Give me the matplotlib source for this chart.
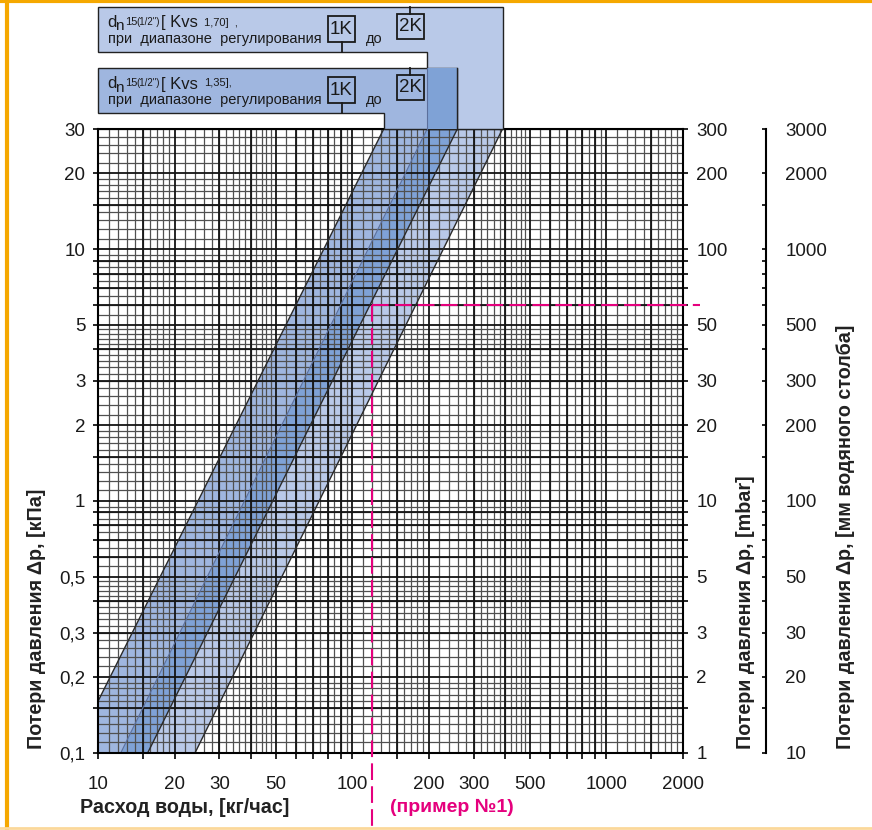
import numpy as np
import matplotlib.pyplot as plt
from matplotlib.patches import Polygon, Rectangle

plt.rcParams['font.family'] = ['Liberation Sans', 'DejaVu Sans']

W, H = 872, 830

# axis scales
flow_ticks = [10, 20, 30, 50, 100, 200, 300, 500, 1000, 2000]
flow_labels = ['10', '20', '30', '50', '100', '200', '300', '500', '1000', '2000']
kpa_ticks = [0.1, 0.2, 0.3, 0.5, 1, 2, 3, 5, 10, 20, 30]
kpa_labels = ['0,1', '0,2', '0,3', '0,5', '1', '2', '3', '5', '10', '20', '30']
mbar_ticks = [1, 2, 3, 5, 10, 20, 30, 50, 100, 200, 300]
mm_ticks = [10, 20, 30, 50, 100, 200, 300, 500, 1000, 2000, 3000]

# band edges (flow kg/h, dp kPa)
edge1_q = [10, 133];   edge1_dp = [0.16, 30]
edge2_q = [12.3, 197]; edge2_dp = [0.1, 30]
edge3_q = [15.7, 259]; edge3_dp = [0.1, 30]
edge4_q = [24.1, 390]; edge4_dp = [0.1, 30]

# example No.1
example_q = 120
example_dp = 6

c_light = '#b9c9e8'
c_mid = '#9fb6df'
c_dark = '#7fa2d6'
pink = '#e5007d'
ink = '#1a1a1a'

major_m = [1, 1.5, 2, 3, 4, 5, 6, 7, 8, 9]
minor_m = list(np.round(np.r_[np.arange(1.1, 2.0, 0.1), np.arange(2.2, 5.0, 0.2), np.arange(5.5, 10, 0.5)], 2))


def log_lines(lo, hi, mants):
    out = []
    for e in range(int(np.floor(np.log10(lo))), int(np.ceil(np.log10(hi))) + 1):
        for m in mants:
            v = m * 10.0 ** e
            if lo * 0.999 <= v <= hi * 1.001:
                out.append(v)
    return out


fig = plt.figure(figsize=(W / 100, H / 100), dpi=100)
ax = fig.add_axes([98 / W, (H - 752.7) / H, 585 / W, 623.7 / H])
ax.set_xscale('log')
ax.set_yscale('log')
ax.set_xlim(10, 2000)
ax.set_ylim(0.1, 30)

# grid
for v in log_lines(10, 2000, minor_m):
    ax.axvline(v, color='#505050', lw=0.9, zorder=2)
for v in log_lines(0.1, 30, minor_m):
    ax.axhline(v, color='#505050', lw=0.9, zorder=2)
x_major = log_lines(10, 2000, major_m)
y_major = log_lines(0.1, 30, major_m)
for v in x_major:
    ax.axvline(v, color='#141414', lw=1.3, zorder=3)
for v in y_major:
    ax.axhline(v, color='#141414', lw=1.3, zorder=3)

# bands
reg_a = [(edge1_q[0], 0.1), (edge1_q[0], edge1_dp[0]), (edge1_q[1], edge1_dp[1]),
         (edge2_q[1], edge2_dp[1]), (edge2_q[0], edge2_dp[0])]
reg_ab = [(edge2_q[0], edge2_dp[0]), (edge2_q[1], edge2_dp[1]),
          (edge3_q[1], edge3_dp[1]), (edge3_q[0], edge3_dp[0])]
reg_b = [(edge3_q[0], edge3_dp[0]), (edge3_q[1], edge3_dp[1]),
         (edge4_q[1], edge4_dp[1]), (edge4_q[0], edge4_dp[0])]
for reg, col in [(reg_a, c_mid), (reg_ab, c_dark), (reg_b, c_light)]:
    ax.add_patch(Polygon(reg, closed=True, facecolor=col, edgecolor='none', zorder=1))
ax.plot(edge1_q, edge1_dp, color='#2a2a2a', lw=1.0, zorder=4)
ax.plot(edge2_q, edge2_dp, color='#5b6f9c', lw=0.8, zorder=4)
ax.plot(edge3_q, edge3_dp, color='#2a2a2a', lw=1.0, zorder=4)
ax.plot(edge4_q, edge4_dp, color='#2a2a2a', lw=1.0, zorder=4)

for s in ax.spines.values():
    s.set_linewidth(1.5)
    s.set_zorder(5)

ax.set_xticks(x_major, labels=[flow_labels[flow_ticks.index(v)] if v in flow_ticks else '' for v in np.round(x_major, 6)])
ax.set_yticks(y_major, labels=[kpa_labels[kpa_ticks.index(v)] if v in kpa_ticks else '' for v in np.round(y_major, 6)])
ax.minorticks_off()
ax.tick_params(axis='x', direction='out', length=4.5, width=1.2, pad=12, labelsize=13.5, labelcolor=ink)
ax.tick_params(axis='y', direction='out', length=3.6, width=1.2, pad=5.5, labelsize=13.5, labelcolor=ink)

# mbar axis
ax2 = ax.twinx()
ax2.set_yscale('log')
ax2.set_ylim(1, 300)
y2 = log_lines(1, 300, major_m)
ax2.set_yticks(y2, labels=[str(int(round(v))) if round(v, 6) in mbar_ticks else '' for v in y2])
ax2.minorticks_off()
ax2.tick_params(axis='y', direction='out', length=3.6, width=1.2, pad=6, labelsize=13.5, labelcolor=ink)
for k in ['left', 'top', 'bottom', 'right']:
    ax2.spines[k].set_visible(False)

# mm water column axis
ax3 = ax.twinx()
ax3.set_yscale('log')
ax3.set_ylim(10, 3000)
ax3.spines['right'].set_position(('axes', (766 - 98) / 585))
ax3.spines['right'].set_linewidth(1.5)
for k in ['left', 'top', 'bottom']:
    ax3.spines[k].set_visible(False)
y3 = log_lines(10, 3000, major_m)
ax3.set_yticks(y3, labels=[str(int(round(v))) if round(v, 6) in mm_ticks else '' for v in y3])
ax3.minorticks_off()
ax3.tick_params(axis='y', direction='in', length=3.2, width=1.2, pad=14, labelsize=13.5, labelcolor=ink)

# axis titles
lab = dict(rotation=90, ha='center', va='bottom', fontsize=14.2, fontweight='bold', color='#222222')
fig.text(37 / W, 1 - 749 / H, 'Потери давления Δp, [кПа]', **lab)
fig.text(745 / W, 1 - 749 / H, 'Потери давления Δp, [mbar]', **lab)
fig.text(845 / W, 1 - 749 / H, 'Потери давления Δp, [мм водяного столба]', **lab)
fig.text(80 / W, 1 - 807 / H, 'Расход воды, [кг/час]', ha='left', va='center',
         fontsize=14.2, fontweight='bold', color='#222222')
fig.text(452 / W, 1 - 807 / H, '(пример №1)', ha='center', va='center',
         fontsize=14, fontweight='bold', color=pink)

# overlay in pixel coordinates
ov = fig.add_axes([0, 0, 1, 1])
ov.set_xlim(0, W)
ov.set_ylim(H, 0)
ov.axis('off')
ov.set_zorder(10)


def px(q, dp):
    x, y = ax.transData.transform((q, dp))
    return x, H - y


y_top = px(10, 30)[1]
x1t = px(edge1_q[1], 30)[0]
x2t = px(edge2_q[1], 30)[0]
x3t = px(edge3_q[1], 30)[0]
x4t = px(edge4_q[1], 30)[0]

up = [(98, 7), (x4t, 7), (x4t, y_top), (x2t, y_top), (x2t, 52), (98, 52)]
lo = [(98, 68), (x3t, 68), (x3t, y_top), (x1t, y_top), (x1t, 113), (98, 113)]
ov.add_patch(Polygon(up, closed=True, facecolor=c_light, edgecolor='#222222', lw=1.0))
ov.add_patch(Polygon(lo, closed=True, facecolor=c_mid, edgecolor='#222222', lw=1.0))
ov.add_patch(Rectangle((x2t, 68), x3t - x2t, y_top - 68, facecolor=c_dark, edgecolor='none'))
ov.plot([x3t, x3t], [68, y_top], color='#222222', lw=1.0)
ov.plot([x2t, x2t], [68, y_top], color='#5b6f9c', lw=0.8)


def box_text(y0, kvs):
    x0 = 98
    t = dict(va='baseline', ha='left', color=ink)
    ov.text(x0 + 9, y0 + 20, 'd', fontsize=12, **t)
    ov.text(x0 + 17.5, y0 + 23.5, 'n', fontsize=11, **t)
    ov.text(x0 + 27, y0 + 18, '15', fontsize=8, **t)
    ov.text(x0 + 38, y0 + 18, '(1/2")', fontsize=7, **t)
    ov.text(x0 + 63, y0 + 20.5, '[ Kvs', fontsize=12, **t)
    ov.text(x0 + 106, y0 + 18.5, kvs, fontsize=8, **t)
    ov.text(x0 + 10, y0 + 36, 'при  диапазоне  регулирования', fontsize=10.5, **t)
    ov.text(x0 + 268, y0 + 36, 'до', fontsize=10.5, **t)
    ov.add_patch(Rectangle((x0 + 230, y0 + 9), 27, 26, facecolor='none', edgecolor=ink, lw=1.3))
    ov.text(x0 + 243.5, y0 + 22.5, '1K', fontsize=13.5, ha='center', va='center', color=ink)
    ov.plot([x0 + 244, x0 + 244], [y0 + 35, y0 + 45], color=ink, lw=1.3)
    ov.add_patch(Rectangle((x0 + 299, y0 + 7), 27, 25, facecolor='none', edgecolor=ink, lw=1.3))
    ov.text(x0 + 312.5, y0 + 19.5, '2K', fontsize=13.5, ha='center', va='center', color=ink)
    ov.plot([x0 + 312, x0 + 312], [y0, y0 + 7], color=ink, lw=1.3)


box_text(7, '1,70]  ,')
box_text(68, '1,35],')

# example dashed lines
ex, ey = px(example_q, example_dp)
x_end = px(2000, 30)[0] + 17
ov.plot([ex, ex], [ey, H], color=pink, lw=1.5, dashes=(8, 3))
ov.plot([ex, x_end], [ey, ey], color=pink, lw=1.5, dashes=(8, 3))

# orange frame
ov.plot([6.5, 6.5], [0, H], color='#f5a800', lw=3)
ov.plot([0, W], [1.5, 1.5], color='#f5a800', lw=3)
ov.plot([0, W], [828, 828], color='#fbd89a', lw=2)

fig.savefig('out.png', dpi=100)
